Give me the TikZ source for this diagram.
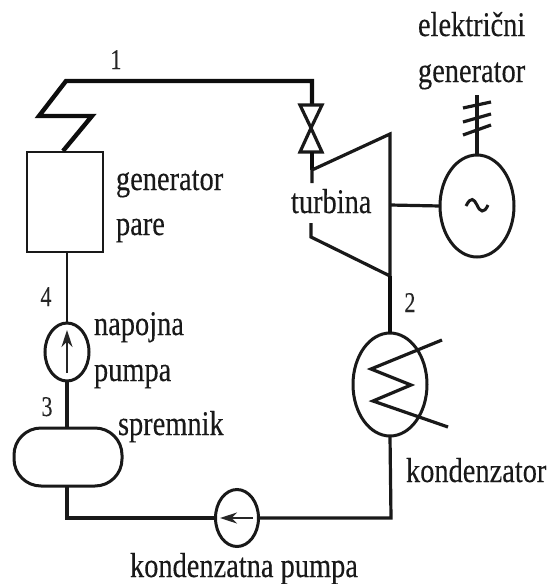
\documentclass[tikz,border=0pt]{standalone}
\usepackage{fontspec}
\setmainfont[FakeBold=0.25]{Liberation Serif}
\usetikzlibrary{shapes.geometric,arrows.meta}
\tikzset{
  lbl/.style={anchor=base west,inner sep=0pt,outer sep=0pt,font=\fontsize{28.4}{28}\selectfont,yscale=1.22,transform shape,text=black!90},
  num/.style={anchor=base,inner sep=0pt,outer sep=0pt,font=\fontsize{22}{22}\selectfont,yscale=1.3,transform shape,text=black!85},
  thinln/.style={line width=2.6pt,black!90},
  midln/.style={line width=3.2pt,black!90},
  thickln/.style={line width=4.4pt,black!95,line join=miter},
  oval/.style={ellipse,draw=black!90,line width=3pt,inner sep=0pt,outer sep=0pt},
  pumparrow/.style={line width=2pt,black!85,-{Stealth[length=17pt,width=11pt]}},
}
\begin{document}
\begin{tikzpicture}[x=1pt,y=-1pt]
\useasboundingbox (0,0) rectangle (548,584);
% components
\node[draw=black!90,line width=2.6pt,minimum width=76pt,minimum height=100pt,inner sep=0pt,outer sep=0pt] (sg) at (65,202) {};
\node[oval,minimum width=44pt,minimum height=58pt] (fp) at (67,352) {};
\node[draw=black!90,line width=3pt,rounded corners=27pt,minimum width=108pt,minimum height=58pt,inner sep=0pt,outer sep=0pt] (tank) at (68,457) {};
\node[oval,minimum width=43pt,minimum height=57pt] (cp) at (237,518) {};
\node[oval,minimum width=74pt,minimum height=103pt] (cond) at (390,384.5) {};
\node[oval,minimum width=74pt,minimum height=102pt] (gen) at (477,206) {};
% named points
\coordinate (s1) at (63,151);
\coordinate (s2) at (92,116);
\coordinate (s3) at (39,116);
\coordinate (s4) at (66,81);
\coordinate (s5) at (312,81);
\coordinate (vtop) at (312,105);
\coordinate (vbot) at (312,152);
\coordinate (vmid) at (311,128);
\coordinate (tin) at (312,170);
\coordinate (tgap1) at (312,183);
\coordinate (tgap2) at (311,223);
\coordinate (tbl) at (311,237);
\coordinate (ttr) at (390,134);
\coordinate (tbr) at (390,276);
\coordinate (cnr1) at (391,518);
\coordinate (cnr2) at (67,518);
\coordinate (shaft) at (390,205);
\coordinate (gtop) at (477,95);
% steam line
\draw[thickln] (s1) -- (s2) -- (s3) -- (s4) -- (s5) -- (vtop);
% valve
\draw[line width=3.2pt,black!90,line join=miter] (vmid) -- (300,105) -- (322,105) -- (vmid) -- (300,152) -- (322,152) -- cycle;
\draw[thickln] (vbot) -- (tin);
% turbine
\draw[midln,line join=miter] (tgap1) -- (tin) -- (ttr) -- (tbr) -- (tbl) -- (tgap2);
\draw[thickln] (tbr) -- (cond.north);
% generator
\draw[midln] (shaft) -- (gen.west);
\draw[midln] (gen.north) -- (gtop);
\draw[midln] (463,108) -- (491,102);
\draw[midln] (463,122) -- (491,114);
\draw[midln] (463,135) -- (491,125);
\draw[line width=3pt,black!90] (466,206) .. controls (471,196) and (474,199) .. (477,205) .. controls (480,212) and (484,214) .. (488,205);
% condenser coil
\draw[midln,line join=miter] (442,340) -- (371,369) -- (411,385) -- (373,401) -- (448,427);
% return line
\draw[midln] (cond.south) -- (cnr1) -- (cp.east);
\draw[midln] (cp.west) -- (cnr2) -- (tank.south -| cnr2);
\draw[midln] (tank.north -| fp) -- (fp.south);
\draw[thinln] (fp.north) -- (sg.south -| fp);
% pump arrows
\coordinate (fpa) at (67,373);
\coordinate (fpb) at (67,330);
\draw[pumparrow] (fpa) -- (fpb);
\coordinate (cpa) at (253,518);
\coordinate (cpb) at (220,518);
\draw[pumparrow] (cpa) -- (cpb);
% labels
\node[lbl] (l1) at (116,190) {generator};
\node[lbl] (l2) at (116,235) {pare};
\node[lbl] (l3) at (291,213) {turbina};
\node[lbl] (l4) at (418,36) {električni};
\node[lbl] (l5) at (418,82) {generator};
\node[lbl] (l6) at (94,335) {napojna};
\node[lbl] (l7) at (94,381) {pumpa};
\node[lbl] (l8) at (118,435) {spremnik};
\node[lbl] (l9) at (406,482) {kondenzator};
\node[lbl] (l10) at (130,577) {kondenzatna pumpa};
\node[num] (n1) at (116,69) {1};
\node[num] (n2) at (410,312) {2};
\node[num] (n3) at (47,416) {3};
\node[num] (n4) at (46,306) {4};
\end{tikzpicture}
\end{document}
